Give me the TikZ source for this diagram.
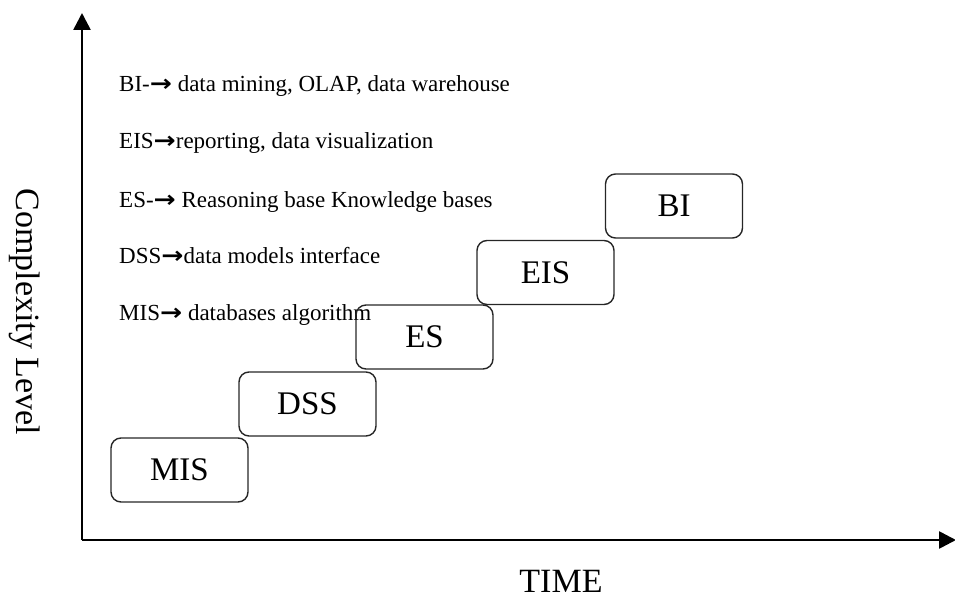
\documentclass[tikz,border=0pt]{standalone}
\usepackage{fontspec}
\setmainfont{Liberation Serif}
\newfontfamily\arrsymfont{DejaVu Sans}
\newcommand{\rarr}{{\arrsymfont\bfseries\scalebox{1.15}[1]{→}}}
\usetikzlibrary{arrows.meta}
\begin{document}
\begin{tikzpicture}[x=1pt,y=-1pt,
  axis/.style={line width=2.6pt,-{Triangle[length=17pt,width=17pt]}},
  stage/.style={draw=black!85,line width=1.4pt,rounded corners=10pt,
    minimum width=137pt,minimum height=64pt,inner sep=0pt,
    font=\fontsize{33}{36}\selectfont},
  note/.style={anchor=base west,inner sep=0pt,font=\fontsize{23}{26}\selectfont},
  axislabel/.style={inner sep=0pt,font=\fontsize{34}{36}\selectfont}]
\useasboundingbox (0,0) rectangle (955,599);

% axes
\coordinate (origin) at (82,540);
\coordinate (ytip) at (82,13);
\coordinate (xtip) at (956,540);
\draw[axis] (origin) -- (ytip);
\draw[axis] (origin) -- (xtip);

% axis labels
\node[axislabel,anchor=base] (time) at (561,592) {TIME};
\node[axislabel,rotate=-90] (complexity) at (25,312) {Complexity Level};

% notes on each stage
\node[note] (nbi)  at (119,92)  {BI-\rarr{} data mining, OLAP, data warehouse};
\node[note] (neis) at (119,148) {EIS\rarr reporting, data visualization};
\node[note] (nes)  at (119,207) {ES-\rarr{} Reasoning base Knowledge bases};
\node[note] (ndss) at (119,263) {DSS\rarr data models interface};
\node[note] (nmis) at (119,320) {MIS\rarr{} databases algorithm};

% staircase of stages
\node[stage] (mis) at (179.5,470)  {MIS};
\node[stage] (dss) at (307.5,404)  {DSS};
\node[stage] (es)  at (424.5,337)  {ES};
\node[stage] (eis) at (545.5,272.5) {EIS};
\node[stage] (bi)  at (674,206)    {BI};
\end{tikzpicture}
\end{document}
